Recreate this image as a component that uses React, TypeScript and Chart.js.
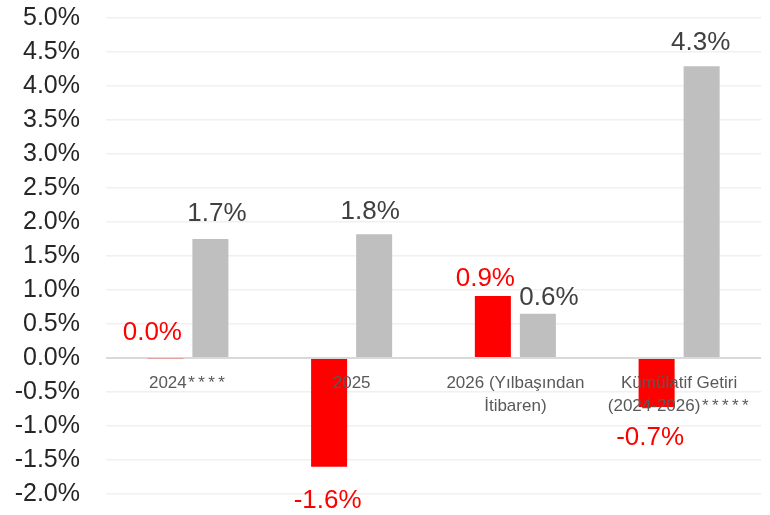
import React, { useEffect, useRef } from "react";
import { Chart, registerables } from "chart.js";

Chart.register(...registerables);

const categories: string[][] = [
  ["2024****"],
  ["2025"],
  ["2026 (Yılbaşından", "İtibaren)"],
  ["Kümülatif Getiri", "(2024-2026)*****"],
];
const redValues = [-0.01, -1.6, 0.91, -0.72];
const grayValues = [1.75, 1.82, 0.65, 4.29];
const redLabels = ["0.0%", "-1.6%", "0.9%", "-0.7%"];
const grayLabels = ["1.7%", "1.8%", "0.6%", "4.3%"];
const yMin = -2;
const yMax = 5;
const yStep = 0.5;

const FONT = "'Liberation Sans', Arial, sans-serif";

// label nudges [dx, distance from bar end] (style only)
const redNudge = [
  [-13, 27],
  [-1.5, 32],
  [-7.5, 19],
  [-6.5, 29],
];
const grayNudge = [
  [6.5, 27],
  [-4, 24.5],
  [11, 18],
  [-1, 25],
];

function drawCatLine(ctx: CanvasRenderingContext2D, text: string, cx: number, cy: number) {
  const m = text.match(/^(.*?)(\**)$/);
  const main = m ? m[1] : text;
  const stars = m ? m[2] : "";
  ctx.textAlign = "left";
  (ctx as any).letterSpacing = "0px";
  const wMain = ctx.measureText(main).width;
  (ctx as any).letterSpacing = "3.4px";
  const wStars = stars ? ctx.measureText(stars).width : 0;
  const total = wMain + wStars;
  const x0 = cx - total / 2;
  (ctx as any).letterSpacing = "0px";
  ctx.fillText(main, x0, cy);
  if (stars) {
    (ctx as any).letterSpacing = "3.4px";
    ctx.fillText(stars, x0 + wMain + 1.5, cy);
    (ctx as any).letterSpacing = "0px";
  }
}

const labelsPlugin = {
  id: "customLabels",
  afterDatasetsDraw(chart: any) {
    const ctx = chart.ctx;
    const x = chart.scales.x;
    const y = chart.scales.y;
    const zeroY = y.getPixelForValue(0);
    ctx.save();
    ctx.font = `17px ${FONT}`;
    ctx.fillStyle = "#595959";
    ctx.textBaseline = "middle";
    categories.forEach((lines, i) => {
      const cx = x.getPixelForValue(i);
      lines.forEach((ln, j) => {
        drawCatLine(ctx, ln, cx, zeroY + 25 + j * 23);
      });
    });
    ctx.font = `26px ${FONT}`;
    ctx.textAlign = "center";
    const sets = [
      { idx: 0, labels: redLabels, values: redValues, color: "#FF0000", nudge: redNudge },
      { idx: 1, labels: grayLabels, values: grayValues, color: "#404040", nudge: grayNudge },
    ];
    sets.forEach((s) => {
      const meta = chart.getDatasetMeta(s.idx);
      meta.data.forEach((bar: any, i: number) => {
        const v = s.values[i];
        const isZero = Math.abs(v) < 0.05;
        const [dx, dd] = s.nudge[i];
        let ly: number;
        if (v >= 0 || isZero) {
          ly = Math.min(bar.y, zeroY) - dd + 2;
        } else {
          ly = bar.y + dd + 2;
        }
        ctx.fillStyle = s.color;
        ctx.fillText(s.labels[i], bar.x + dx, ly);
      });
    });
    ctx.restore();
  },
};

export default function App() {
  const ref = useRef<HTMLCanvasElement | null>(null);
  useEffect(() => {
    document.body.style.margin = "0";
    const canvas = ref.current!;
    const chart = new Chart(canvas, {
      type: "bar",
      data: {
        labels: categories.map((c) => c.join(" ")),
        datasets: [
          {
            data: redValues,
            backgroundColor: "#FF0000",
            categoryPercentage: 0.55,
            barPercentage: 0.8,
          },
          {
            data: grayValues,
            backgroundColor: "#BFBFBF",
            categoryPercentage: 0.55,
            barPercentage: 0.8,
          },
        ],
      },
      options: {
        animation: false,
        responsive: false,
        maintainAspectRatio: false,
        layout: { padding: { top: 18, bottom: 21, right: 9, left: 0 } },
        plugins: {
          legend: { display: false },
          tooltip: { enabled: false },
        },
        scales: {
          x: {
            display: false,
            grid: { display: false },
          },
          y: {
            min: yMin,
            max: yMax,
            afterFit(scale: any) {
              scale.width = 106;
              scale.paddingTop = 0;
              scale.paddingBottom = 0;
            },
            border: { display: false },
            grid: {
              drawTicks: false,
              color: (c: any) => (c.tick && c.tick.value === 0 ? "#d9d9d9" : "#f0f0f0"),
              lineWidth: (c: any) => (c.tick && c.tick.value === 0 ? 2 : 1.5),
            },
            ticks: {
              stepSize: yStep,
              padding: 26,
              color: "#262626",
              font: { family: FONT, size: 25 },
              callback: (v: any) => Number(v).toFixed(1) + "%",
            },
          },
        },
      },
      plugins: [labelsPlugin],
    });
    return () => chart.destroy();
  }, []);
  return (
    <div style={{ width: 770, height: 515 }}>
      <canvas ref={ref} width={770} height={515} style={{ display: "block" }} />
    </div>
  );
}
